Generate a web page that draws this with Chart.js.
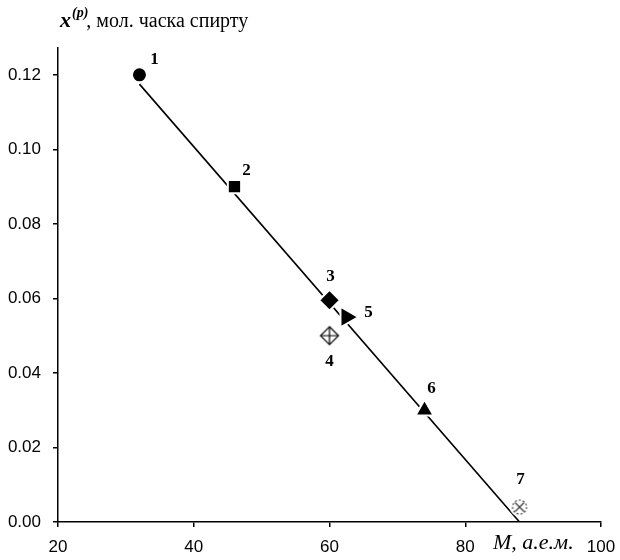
<!DOCTYPE html>
<html>
<head>
<meta charset="utf-8">
<script src="https://cdn.jsdelivr.net/npm/chart.js@4/dist/chart.umd.min.js"></script>
<style>
  body { margin: 0; background: #fff; }
  #grafik { display: block; }
</style>
</head>
<body>
<canvas id="grafik" width="620" height="560"></canvas>
<script>
// молекулярна маса спирту і склад пари
const masaM = [32, 46, 60, 60, 62.5, 74, 88];
const xPara = [0.120, 0.090, 0.0595, 0.050, 0.055, 0.030, 0.004];
const nomery = ['1', '2', '3', '4', '5', '6', '7'];

// пряма залежності
const liniyaM = [32, 88];
const liniyaX = [0.1175, 0.0];

const tikyX = [20, 40, 60, 80, 100];
const tikyY = [0, 0.02, 0.04, 0.06, 0.08, 0.10, 0.12];

// зсув підписів від маркерів, px
const zsuvy = [[15, -15], [12, -16], [1, -24], [0, 26], [22, -4], [7, -22], [1, -27]];

// ромб з хрестиком (4)
function markerRomb() {
  const c = document.createElement('canvas');
  c.width = 22; c.height = 22;
  const g = c.getContext('2d');
  const r = 9;
  g.translate(11, 11);
  g.beginPath();
  g.moveTo(0, -r); g.lineTo(r, 0); g.lineTo(0, r); g.lineTo(-r, 0); g.closePath();
  g.fillStyle = '#fff';
  g.fill();
  g.strokeStyle = '#000';
  g.lineWidth = 1.2;
  g.stroke();
  g.beginPath();
  g.moveTo(0, -r); g.lineTo(0, r);
  g.moveTo(-r, 0); g.lineTo(r, 0);
  g.stroke();
  return c;
}

// пунктирне коло з косим хрестиком (7)
function markerKolo() {
  const c = document.createElement('canvas');
  c.width = 22; c.height = 22;
  const g = c.getContext('2d');
  g.translate(11, 11);
  g.beginPath();
  g.arc(0, 0, 9.5, 0, Math.PI * 2);
  g.fillStyle = '#fff';
  g.fill();
  g.strokeStyle = '#333';
  g.lineWidth = 1.1;
  g.setLineDash([2, 2]);
  g.beginPath();
  g.arc(0, 0, 7, 0, Math.PI * 2);
  g.stroke();
  g.setLineDash([]);
  const d = 4.5;
  g.beginPath();
  g.moveTo(-d, -d); g.lineTo(d, d);
  g.moveTo(d, -d); g.lineTo(-d, d);
  g.stroke();
  return c;
}

const stylMarkera = ['circle', 'rect', 'rectRot', markerRomb(), 'triangle', 'triangle', markerKolo()];
const radiusy = [7.5, 9.4, 10.5, 10, 12, 10.5, 10];
const povoroty = [0, 0, 0, 0, 90, 0, 0];

const pidpysy = {
  id: 'pidpysy',
  afterDraw(chart) {
    const ctx = chart.ctx;
    const meta = chart.getDatasetMeta(0);
    ctx.save();
    ctx.fillStyle = '#000';
    ctx.textAlign = 'center';
    ctx.textBaseline = 'middle';
    ctx.font = 'bold 17px "Liberation Serif"';
    meta.data.forEach((el, i) => {
      ctx.fillText(nomery[i], el.x + zsuvy[i][0], el.y + zsuvy[i][1]);
    });

    // назва осі Y
    ctx.textAlign = 'left';
    ctx.textBaseline = 'alphabetic';
    let x = 60;
    ctx.font = 'bold italic 22px "Liberation Serif"';
    ctx.fillText('x', x, 27);
    x += ctx.measureText('x').width + 1;
    ctx.font = 'bold italic 14px "Liberation Serif"';
    ctx.fillText('(p)', x, 17);
    x += ctx.measureText('(p)').width - 2;
    ctx.font = '20px "Liberation Serif"';
    ctx.fillText(', мол. часка спирту', x, 27);

    // назва осі X
    ctx.font = 'italic 22px "Liberation Serif"';
    ctx.fillText('M, а.е.м.', 493, 549);
    ctx.restore();
  }
};

new Chart(document.getElementById('grafik'), {
  type: 'scatter',
  data: {
    datasets: [
      {
        data: masaM.map((m, i) => ({ x: m, y: xPara[i] })),
        pointStyle: stylMarkera,
        pointRadius: radiusy,
        pointRotation: povoroty,
        pointBackgroundColor: '#000',
        pointBorderColor: '#fff',
        pointBorderWidth: 2,
        showLine: false
      },
      {
        type: 'line',
        data: liniyaM.map((m, i) => ({ x: m, y: liniyaX[i] })),
        borderColor: '#000',
        borderWidth: 1.6,
        pointRadius: 0,
        fill: false
      }
    ]
  },
  options: {
    responsive: false,
    animation: false,
    layout: { padding: { top: 48, right: 19, left: 0, bottom: 0 } },
    plugins: {
      legend: { display: false },
      tooltip: { enabled: false }
    },
    scales: {
      x: {
        type: 'linear',
        min: 20,
        max: 100,
        afterBuildTicks: (axis) => { axis.ticks = tikyX.map(v => ({ value: v })); },
        afterFit: (axis) => {
          axis.height = 38;
          axis.paddingLeft = 0;
          axis.paddingRight = 0;
        },
        ticks: {
          color: '#000',
          font: { family: '"Liberation Sans"', size: 17 },
          padding: 10,
          maxRotation: 0
        },
        grid: { drawOnChartArea: false, color: '#000', lineWidth: 1.5, tickLength: 5 },
        border: { color: '#000', width: 1.5 }
      },
      y: {
        min: 0,
        max: 0.1272,
        afterBuildTicks: (axis) => { axis.ticks = tikyY.map(v => ({ value: v })); },
        afterFit: (axis) => {
          axis.width = 58;
          axis.paddingTop = 0;
          axis.paddingBottom = 0;
        },
        ticks: {
          color: '#000',
          font: { family: '"Liberation Sans"', size: 17 },
          padding: 12,
          callback: (v) => v.toFixed(2)
        },
        grid: { drawOnChartArea: false, color: '#000', lineWidth: 1.5, tickLength: 5 },
        border: { color: '#000', width: 1.5 }
      }
    }
  },
  plugins: [pidpysy]
});
</script>
</body>
</html>
